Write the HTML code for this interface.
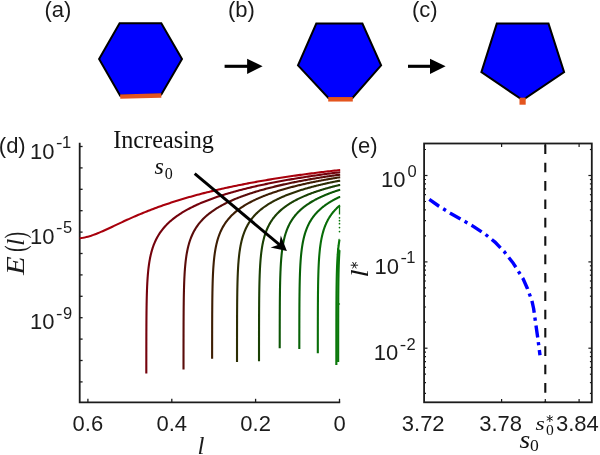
<!DOCTYPE html>
<html><head><meta charset="utf-8"><title>figure</title>
<style>html,body{margin:0;padding:0;background:#fff;}svg{display:block;}</style>
</head><body>
<svg width="600" height="455" viewBox="0 0 600 455">
<defs><filter id="n" x="0" y="0" width="600" height="455" filterUnits="userSpaceOnUse"><feOffset dx="0" dy="0"/></filter></defs>
<rect width="600" height="455" fill="#fff"/>
<g filter="url(#n)">
<polygon points="119.6,23.2 161.3,23.2 182.0,58.9 161.3,94.6 120.2,95.7 99.1,58.9" fill="#0000ff" stroke="#000" stroke-width="2.0" stroke-linejoin="miter"/>
<line x1="120.2" y1="96.6" x2="161.3" y2="95.5" stroke="#e4551e" stroke-width="4.3"/>
<polygon points="316.3,23.6 362.4,23.6 381.1,65.4 352.5,97.9 328.4,97.9 298.0,65.4" fill="#0000ff" stroke="#000" stroke-width="2.0" stroke-linejoin="miter"/>
<line x1="328.2" y1="99.3" x2="352.8" y2="99.3" stroke="#e4551e" stroke-width="4.5"/>
<polygon points="496.8,23.6 548.5,23.6 564.1,72.2 522.7,100.1 481.4,72.2" fill="#0000ff" stroke="#000" stroke-width="2.0" stroke-linejoin="miter"/>
<rect x="519.5" y="97.7" width="6.2" height="7.0" fill="#e4551e"/>
<line x1="224.6" y1="66.3" x2="248.1" y2="66.3" stroke="#000" stroke-width="3.1"/>
<polygon points="247.1,58.699999999999996 262.6,66.3 247.1,73.89999999999999" fill="#000"/>
<line x1="408.0" y1="66.3" x2="431.0" y2="66.3" stroke="#000" stroke-width="3.1"/>
<polygon points="430.0,58.699999999999996 445.6,66.3 430.0,73.89999999999999" fill="#000"/>
<text x="44.5" y="17.2" font-family="Liberation Sans, sans-serif" font-size="22" fill="#1a1a1a">(a)</text>
<text x="228" y="17.2" font-family="Liberation Sans, sans-serif" font-size="22" fill="#1a1a1a">(b)</text>
<text x="412" y="17.2" font-family="Liberation Sans, sans-serif" font-size="22" fill="#1a1a1a">(c)</text>
<text x="-1.2" y="152.6" font-family="Liberation Sans, sans-serif" font-size="22" fill="#1a1a1a">(d)</text>
<text x="350.6" y="152.6" font-family="Liberation Sans, sans-serif" font-size="22" fill="#1a1a1a">(e)</text>
<path d="M79.7,142.7 V402.3 H340.2" fill="none" stroke="#1c1c1c" stroke-width="1.8"/>
<line x1="79.7" y1="146.5" x2="82.6" y2="146.5" stroke="#1c1c1c" stroke-width="1.3"/>
<line x1="79.7" y1="167.9" x2="82.6" y2="167.9" stroke="#1c1c1c" stroke-width="1.3"/>
<line x1="79.7" y1="189.3" x2="82.6" y2="189.3" stroke="#1c1c1c" stroke-width="1.3"/>
<line x1="79.7" y1="210.7" x2="82.6" y2="210.7" stroke="#1c1c1c" stroke-width="1.3"/>
<line x1="79.7" y1="232.1" x2="82.6" y2="232.1" stroke="#1c1c1c" stroke-width="1.3"/>
<line x1="79.7" y1="253.5" x2="82.6" y2="253.5" stroke="#1c1c1c" stroke-width="1.3"/>
<line x1="79.7" y1="274.9" x2="82.6" y2="274.9" stroke="#1c1c1c" stroke-width="1.3"/>
<line x1="79.7" y1="296.3" x2="82.6" y2="296.3" stroke="#1c1c1c" stroke-width="1.3"/>
<line x1="79.7" y1="317.7" x2="82.6" y2="317.7" stroke="#1c1c1c" stroke-width="1.3"/>
<line x1="79.7" y1="339.1" x2="82.6" y2="339.1" stroke="#1c1c1c" stroke-width="1.3"/>
<line x1="79.7" y1="360.5" x2="82.6" y2="360.5" stroke="#1c1c1c" stroke-width="1.3"/>
<line x1="79.7" y1="381.9" x2="82.6" y2="381.9" stroke="#1c1c1c" stroke-width="1.3"/>
<line x1="87.9" y1="402.3" x2="87.9" y2="398.8" stroke="#1c1c1c" stroke-width="1.3"/>
<text x="87.9" y="430.8" font-family="Liberation Sans, sans-serif" font-size="22" fill="#1c1c1c" text-anchor="middle">0.6</text>
<line x1="171.8" y1="402.3" x2="171.8" y2="398.8" stroke="#1c1c1c" stroke-width="1.3"/>
<text x="171.8" y="430.8" font-family="Liberation Sans, sans-serif" font-size="22" fill="#1c1c1c" text-anchor="middle">0.4</text>
<line x1="255.6" y1="402.3" x2="255.6" y2="398.8" stroke="#1c1c1c" stroke-width="1.3"/>
<text x="255.6" y="430.8" font-family="Liberation Sans, sans-serif" font-size="22" fill="#1c1c1c" text-anchor="middle">0.2</text>
<line x1="339.5" y1="402.3" x2="339.5" y2="398.8" stroke="#1c1c1c" stroke-width="1.3"/>
<text x="339.5" y="430.8" font-family="Liberation Sans, sans-serif" font-size="22" fill="#1c1c1c" text-anchor="middle">0</text>
<text x="54.6" y="158.6" font-family="Liberation Sans, sans-serif" font-size="22" fill="#1c1c1c" text-anchor="end">10</text>
<text transform="translate(56.1,148.0) scale(1.18,1)" font-family="Liberation Sans, sans-serif" font-size="16.5" fill="#1c1c1c">-</text>
<text x="61.9" y="148.0" font-family="Liberation Sans, sans-serif" font-size="16.5" fill="#1c1c1c">1</text>
<text x="54.6" y="243.8" font-family="Liberation Sans, sans-serif" font-size="22" fill="#1c1c1c" text-anchor="end">10</text>
<text transform="translate(56.1,233.20000000000002) scale(1.18,1)" font-family="Liberation Sans, sans-serif" font-size="16.5" fill="#1c1c1c">-</text>
<text x="63.0" y="233.20000000000002" font-family="Liberation Sans, sans-serif" font-size="16.5" fill="#1c1c1c">5</text>
<text x="54.6" y="329.4" font-family="Liberation Sans, sans-serif" font-size="22" fill="#1c1c1c" text-anchor="end">10</text>
<text transform="translate(56.1,318.79999999999995) scale(1.18,1)" font-family="Liberation Sans, sans-serif" font-size="16.5" fill="#1c1c1c">-</text>
<text x="63.0" y="318.79999999999995" font-family="Liberation Sans, sans-serif" font-size="16.5" fill="#1c1c1c">9</text>
<g transform="translate(24.3,274.8) rotate(-90)" font-family="Liberation Serif, serif" fill="#1c1c1c"><text transform="translate(-0.3,0) scale(1.2,1)" font-style="italic" font-size="25.5">E</text><text transform="translate(22.9,0.3) scale(0.7,1)" font-size="29">(</text><text transform="translate(28.8,0)" font-style="italic" font-size="26">l</text><text transform="translate(36.2,0.3) scale(0.7,1)" font-size="29">)</text></g>
<text x="201" y="453.6" font-family="Liberation Serif, serif" font-style="italic" font-size="25" fill="#1c1c1c" text-anchor="middle">l</text>
<path d="M340.20,170.10 L337.87,170.28 L336.23,170.46 L334.60,170.64 L332.96,170.82 L331.33,171.01 L329.70,171.19 L328.06,171.38 L326.43,171.58 L324.79,171.77 L323.16,171.96 L321.53,172.16 L319.89,172.36 L318.26,172.56 L316.62,172.76 L314.99,172.97 L313.36,173.17 L311.72,173.38 L310.09,173.60 L308.45,173.81 L306.82,174.02 L305.19,174.24 L303.55,174.46 L301.92,174.68 L300.28,174.91 L298.65,175.13 L297.02,175.36 L295.38,175.59 L293.75,175.83 L292.12,176.06 L290.48,176.30 L288.85,176.54 L287.21,176.78 L285.58,177.03 L283.95,177.28 L282.31,177.53 L280.68,177.78 L279.04,178.03 L277.41,178.29 L275.78,178.55 L274.14,178.81 L272.51,179.08 L270.87,179.35 L269.24,179.62 L267.61,179.89 L265.97,180.17 L264.34,180.45 L262.70,180.73 L261.07,181.01 L259.44,181.30 L257.80,181.59 L256.17,181.89 L254.53,182.18 L252.90,182.48 L251.27,182.79 L249.63,183.09 L248.00,183.40 L246.36,183.71 L244.73,184.03 L243.10,184.35 L241.46,184.67 L239.83,185.00 L238.19,185.32 L236.56,185.66 L234.93,185.99 L233.29,186.33 L231.66,186.68 L230.02,187.02 L228.39,187.38 L226.76,187.73 L225.12,188.09 L223.49,188.45 L221.85,188.82 L220.22,189.19 L218.59,189.56 L216.95,189.94 L215.32,190.33 L213.68,190.72 L212.05,191.11 L210.42,191.50 L208.78,191.91 L207.15,192.31 L205.52,192.72 L203.88,193.14 L202.25,193.56 L200.61,193.98 L198.98,194.42 L197.35,194.85 L195.71,195.29 L194.08,195.74 L192.44,196.19 L190.81,196.65 L189.18,197.11 L187.54,197.58 L185.91,198.05 L184.27,198.53 L182.64,199.02 L181.01,199.51 L179.37,200.01 L177.74,200.52 L176.10,201.03 L174.47,201.54 L172.84,202.07 L171.20,202.60 L169.57,203.14 L167.93,203.68 L166.30,204.24 L164.67,204.80 L163.03,205.36 L161.40,205.94 L159.76,206.52 L158.13,207.11 L156.50,207.71 L154.86,208.31 L153.23,208.92 L151.59,209.54 L149.96,210.17 L148.33,210.81 L146.69,211.46 L145.06,212.11 L143.42,212.77 L141.79,213.44 L140.16,214.12 L138.52,214.81 L136.89,215.50 L135.25,216.20 L133.62,216.91 L131.99,217.63 L130.35,218.36 L128.72,219.09 L127.08,219.83 L125.45,220.57 L123.82,221.32 L122.18,222.08 L120.55,222.84 L118.92,223.61 L117.28,224.37 L115.65,225.14 L114.01,225.92 L112.38,226.69 L110.75,227.45 L109.11,228.22 L107.48,228.98 L105.84,229.73 L104.21,230.47 L102.58,231.19 L100.94,231.91 L99.31,232.60 L97.67,233.27 L96.04,233.92 L94.41,234.54 L92.77,235.12 L91.14,235.68 L89.50,236.19 L87.87,236.65 L86.24,237.08 L84.60,237.45 L82.97,237.76 L81.33,238.02 L79.70,238.22" fill="none" stroke="rgb(168,0,12)" stroke-width="2.1" stroke-linejoin="round"/>
<path d="M340.20,172.30 L338.18,172.46 L336.86,172.62 L335.54,172.79 L334.22,172.95 L332.90,173.12 L331.58,173.29 L330.26,173.46 L328.94,173.63 L327.62,173.80 L326.30,173.98 L324.98,174.15 L323.65,174.33 L322.33,174.51 L321.01,174.69 L319.69,174.88 L318.37,175.06 L317.05,175.25 L315.73,175.44 L314.41,175.63 L313.09,175.82 L311.77,176.01 L310.45,176.21 L309.13,176.41 L307.81,176.61 L306.49,176.81 L305.17,177.01 L303.85,177.21 L302.53,177.42 L301.21,177.63 L299.89,177.84 L298.57,178.06 L297.25,178.27 L295.93,178.49 L294.61,178.71 L293.28,178.93 L291.96,179.15 L290.64,179.38 L289.32,179.61 L288.00,179.84 L286.68,180.07 L285.36,180.30 L284.04,180.54 L282.72,180.78 L281.40,181.02 L280.08,181.27 L278.76,181.51 L277.44,181.76 L276.12,182.02 L274.80,182.27 L273.48,182.53 L272.16,182.79 L270.84,183.05 L269.52,183.32 L268.20,183.59 L266.88,183.86 L265.56,184.13 L264.24,184.41 L262.91,184.69 L261.59,184.97 L260.27,185.26 L258.95,185.55 L257.63,185.84 L256.31,186.14 L254.99,186.44 L253.67,186.75 L252.35,187.05 L251.03,187.36 L249.71,187.68 L248.39,188.00 L247.07,188.32 L245.75,188.65 L244.43,188.98 L243.11,189.31 L241.79,189.65 L240.47,189.99 L239.15,190.34 L237.83,190.69 L236.51,191.05 L235.19,191.41 L233.87,191.78 L232.55,192.15 L231.22,192.53 L229.90,192.91 L228.58,193.30 L227.26,193.69 L225.94,194.09 L224.62,194.50 L223.30,194.91 L221.98,195.33 L220.66,195.75 L219.34,196.18 L218.02,196.62 L216.70,197.07 L215.38,197.52 L214.06,197.98 L212.74,198.45 L211.42,198.93 L210.10,199.41 L208.78,199.91 L207.46,200.41 L206.14,200.92 L204.82,201.45 L203.50,201.98 L202.18,202.53 L200.85,203.08 L199.53,203.65 L198.21,204.23 L196.89,204.83 L195.57,205.43 L194.25,206.06 L192.93,206.69 L191.61,207.35 L190.29,208.02 L188.97,208.71 L187.65,209.41 L186.33,210.14 L185.01,210.89 L183.69,211.66 L182.37,212.46 L181.05,213.28 L179.73,214.13 L178.41,215.01 L177.09,215.92 L175.77,216.87 L174.45,217.86 L173.13,218.89 L171.81,219.97 L170.48,221.09 L169.16,222.28 L167.84,223.53 L166.52,224.85 L165.20,226.25 L163.88,227.74 L162.56,229.34 L161.24,231.06 L159.92,232.93 L158.60,234.98 L157.28,237.24 L155.96,239.78 L155.96,239.78 L155.40,240.95 L154.88,242.12 L154.38,243.29 L153.91,244.45 L153.47,245.61 L153.06,246.77 L152.67,247.92 L152.30,249.07 L151.95,250.22 L151.63,251.37 L151.32,252.52 L151.03,253.66 L150.75,254.80 L150.50,255.94 L150.25,257.07 L150.03,258.21 L149.81,259.34 L149.61,260.48 L149.42,261.61 L149.24,262.74 L149.07,263.86 L148.91,264.99 L148.76,266.12 L148.61,267.24 L148.48,268.37 L148.35,269.49 L148.23,270.61 L148.12,271.73 L148.02,272.85 L147.92,273.97 L147.82,275.09 L147.74,276.21 L147.65,277.33 L147.58,278.44 L147.50,279.56 L147.43,280.67 L147.37,281.79 L147.30,282.90 L147.25,284.02 L147.19,285.13 L147.14,286.25 L147.09,287.36 L147.05,288.47 L147.00,289.59 L146.96,290.70 L146.92,291.81 L146.89,292.92 L146.85,294.03 L146.82,295.14 L146.79,296.25 L146.76,297.36 L146.74,298.48 L146.71,299.59 L146.69,300.70 L146.67,301.81 L146.64,302.91 L146.62,304.02 L146.61,305.13 L146.59,306.24 L146.57,307.35 L146.56,308.46 L146.54,309.57 L146.53,310.68 L146.51,311.79 L146.50,312.90 L146.49,314.00 L146.48,315.11 L146.47,316.22 L146.46,317.33 L146.45,318.44 L146.44,319.55 L146.43,320.65 L146.42,321.76 L146.42,322.87 L146.41,323.98 L146.40,325.09 L146.40,326.19 L146.39,327.30 L146.39,328.41 L146.38,329.52 L146.38,330.62 L146.37,331.73 L146.37,332.84 L146.36,333.95 L146.36,335.05 L146.36,336.16 L146.35,337.27 L146.35,338.38 L146.35,339.48 L146.35,340.59 L146.34,341.70 L146.34,342.81 L146.34,343.91 L146.34,345.02 L146.33,346.13 L146.33,347.24 L146.33,348.34 L146.33,349.45 L146.33,350.56 L146.33,351.66 L146.32,352.77 L146.32,353.88 L146.32,354.99 L146.32,356.09 L146.32,357.20 L146.32,358.31 L146.32,359.41 L146.32,360.52 L146.31,361.63 L146.31,362.74 L146.31,363.84 L146.31,364.95 L146.31,366.06 L146.31,367.16 L146.31,368.27 L146.31,369.38 L146.31,370.49 L146.31,371.59 L146.31,372.70 L146.31,373.50" fill="none" stroke="rgb(116,2,12)" stroke-width="2.1" stroke-linejoin="round"/>
<path d="M340.20,174.70 L338.43,174.85 L337.37,175.00 L336.30,175.15 L335.24,175.30 L334.17,175.45 L333.10,175.60 L332.04,175.76 L330.97,175.92 L329.90,176.07 L328.84,176.23 L327.77,176.39 L326.71,176.56 L325.64,176.72 L324.57,176.88 L323.51,177.05 L322.44,177.22 L321.37,177.39 L320.31,177.56 L319.24,177.73 L318.18,177.90 L317.11,178.08 L316.04,178.26 L314.98,178.43 L313.91,178.61 L312.85,178.80 L311.78,178.98 L310.71,179.16 L309.65,179.35 L308.58,179.54 L307.51,179.73 L306.45,179.92 L305.38,180.11 L304.32,180.31 L303.25,180.51 L302.18,180.71 L301.12,180.91 L300.05,181.11 L298.98,181.31 L297.92,181.52 L296.85,181.73 L295.79,181.94 L294.72,182.15 L293.65,182.37 L292.59,182.58 L291.52,182.80 L290.46,183.03 L289.39,183.25 L288.32,183.48 L287.26,183.70 L286.19,183.93 L285.12,184.17 L284.06,184.40 L282.99,184.64 L281.93,184.88 L280.86,185.12 L279.79,185.37 L278.73,185.62 L277.66,185.87 L276.59,186.12 L275.53,186.38 L274.46,186.64 L273.40,186.90 L272.33,187.17 L271.26,187.43 L270.20,187.71 L269.13,187.98 L268.07,188.26 L267.00,188.54 L265.93,188.83 L264.87,189.11 L263.80,189.41 L262.73,189.70 L261.67,190.00 L260.60,190.30 L259.54,190.61 L258.47,190.92 L257.40,191.24 L256.34,191.56 L255.27,191.88 L254.21,192.21 L253.14,192.55 L252.07,192.88 L251.01,193.23 L249.94,193.58 L248.87,193.93 L247.81,194.29 L246.74,194.65 L245.68,195.02 L244.61,195.40 L243.54,195.78 L242.48,196.17 L241.41,196.56 L240.34,196.96 L239.28,197.37 L238.21,197.79 L237.15,198.21 L236.08,198.64 L235.01,199.08 L233.95,199.53 L232.88,199.99 L231.82,200.45 L230.75,200.93 L229.68,201.41 L228.62,201.91 L227.55,202.41 L226.48,202.93 L225.42,203.46 L224.35,204.00 L223.29,204.56 L222.22,205.12 L221.15,205.71 L220.09,206.31 L219.02,206.92 L217.95,207.55 L216.89,208.20 L215.82,208.87 L214.76,209.56 L213.69,210.28 L212.62,211.01 L211.56,211.78 L210.49,212.57 L209.43,213.38 L208.36,214.23 L207.29,215.12 L206.23,216.04 L205.16,217.01 L204.09,218.02 L203.03,219.08 L201.96,220.20 L200.90,221.38 L199.83,222.63 L198.76,223.96 L197.70,225.38 L196.63,226.90 L195.56,228.55 L194.50,230.35 L193.43,232.32 L192.37,234.51 L191.30,236.97 L191.30,236.97 L190.85,238.11 L190.42,239.25 L190.02,240.39 L189.65,241.52 L189.29,242.66 L188.96,243.79 L188.64,244.92 L188.34,246.05 L188.06,247.18 L187.80,248.30 L187.55,249.43 L187.32,250.55 L187.10,251.68 L186.89,252.80 L186.69,253.92 L186.51,255.04 L186.33,256.16 L186.17,257.28 L186.02,258.40 L185.87,259.52 L185.73,260.64 L185.60,261.76 L185.48,262.87 L185.37,263.99 L185.26,265.10 L185.16,266.22 L185.06,267.33 L184.97,268.45 L184.89,269.56 L184.81,270.67 L184.73,271.79 L184.66,272.90 L184.59,274.01 L184.53,275.12 L184.47,276.23 L184.41,277.35 L184.36,278.46 L184.31,279.57 L184.26,280.68 L184.22,281.79 L184.18,282.90 L184.14,284.01 L184.10,285.12 L184.07,286.23 L184.03,287.34 L184.00,288.45 L183.97,289.56 L183.95,290.67 L183.92,291.77 L183.90,292.88 L183.87,293.99 L183.85,295.10 L183.83,296.21 L183.81,297.32 L183.79,298.43 L183.78,299.54 L183.76,300.64 L183.75,301.75 L183.73,302.86 L183.72,303.97 L183.71,305.08 L183.69,306.18 L183.68,307.29 L183.67,308.40 L183.66,309.51 L183.65,310.61 L183.64,311.72 L183.64,312.83 L183.63,313.94 L183.62,315.05 L183.61,316.15 L183.61,317.26 L183.60,318.37 L183.60,319.48 L183.59,320.58 L183.58,321.69 L183.58,322.80 L183.57,323.91 L183.57,325.01 L183.57,326.12 L183.56,327.23 L183.56,328.33 L183.56,329.44 L183.55,330.55 L183.55,331.66 L183.55,332.76 L183.54,333.87 L183.54,334.98 L183.54,336.09 L183.54,337.19 L183.53,338.30 L183.53,339.41 L183.53,340.51 L183.53,341.62 L183.53,342.73 L183.53,343.84 L183.52,344.94 L183.52,346.05 L183.52,347.16 L183.52,348.26 L183.52,349.37 L183.52,350.48 L183.52,351.58 L183.52,352.69 L183.52,353.80 L183.51,354.91 L183.51,356.01 L183.51,357.12 L183.51,358.23 L183.51,359.33 L183.51,360.44 L183.51,361.55 L183.51,362.66 L183.51,363.76 L183.51,364.87 L183.51,365.98 L183.51,367.08 L183.51,368.19 L183.51,369.30 L183.51,369.50" fill="none" stroke="rgb(90,12,10)" stroke-width="2.1" stroke-linejoin="round"/>
<path d="M340.20,177.30 L338.63,177.44 L337.76,177.58 L336.89,177.72 L336.02,177.87 L335.15,178.01 L334.28,178.16 L333.40,178.30 L332.53,178.45 L331.66,178.60 L330.79,178.75 L329.92,178.90 L329.05,179.05 L328.18,179.21 L327.31,179.36 L326.44,179.52 L325.57,179.68 L324.70,179.84 L323.83,180.00 L322.96,180.16 L322.09,180.32 L321.21,180.49 L320.34,180.66 L319.47,180.82 L318.60,180.99 L317.73,181.16 L316.86,181.34 L315.99,181.51 L315.12,181.68 L314.25,181.86 L313.38,182.04 L312.51,182.22 L311.64,182.40 L310.77,182.58 L309.90,182.77 L309.02,182.96 L308.15,183.14 L307.28,183.34 L306.41,183.53 L305.54,183.72 L304.67,183.92 L303.80,184.11 L302.93,184.31 L302.06,184.52 L301.19,184.72 L300.32,184.92 L299.45,185.13 L298.58,185.34 L297.71,185.55 L296.83,185.77 L295.96,185.98 L295.09,186.20 L294.22,186.42 L293.35,186.64 L292.48,186.87 L291.61,187.10 L290.74,187.33 L289.87,187.56 L289.00,187.79 L288.13,188.03 L287.26,188.27 L286.39,188.52 L285.52,188.76 L284.64,189.01 L283.77,189.26 L282.90,189.52 L282.03,189.78 L281.16,190.04 L280.29,190.30 L279.42,190.57 L278.55,190.84 L277.68,191.11 L276.81,191.39 L275.94,191.67 L275.07,191.96 L274.20,192.25 L273.33,192.54 L272.45,192.84 L271.58,193.14 L270.71,193.44 L269.84,193.75 L268.97,194.07 L268.10,194.38 L267.23,194.71 L266.36,195.04 L265.49,195.37 L264.62,195.71 L263.75,196.05 L262.88,196.40 L262.01,196.75 L261.14,197.12 L260.26,197.48 L259.39,197.86 L258.52,198.24 L257.65,198.62 L256.78,199.02 L255.91,199.42 L255.04,199.83 L254.17,200.24 L253.30,200.67 L252.43,201.10 L251.56,201.54 L250.69,201.99 L249.82,202.45 L248.95,202.93 L248.07,203.41 L247.20,203.90 L246.33,204.41 L245.46,204.92 L244.59,205.45 L243.72,206.00 L242.85,206.55 L241.98,207.13 L241.11,207.72 L240.24,208.32 L239.37,208.95 L238.50,209.59 L237.63,210.26 L236.76,210.94 L235.88,211.65 L235.01,212.39 L234.14,213.15 L233.27,213.94 L232.40,214.76 L231.53,215.62 L230.66,216.51 L229.79,217.45 L228.92,218.43 L228.05,219.46 L227.18,220.55 L226.31,221.70 L225.44,222.92 L224.57,224.22 L223.69,225.61 L222.82,227.10 L221.95,228.72 L221.08,230.49 L220.21,232.43 L219.34,234.59 L218.47,237.02 L218.47,237.02 L218.10,238.14 L217.75,239.27 L217.43,240.39 L217.12,241.52 L216.83,242.64 L216.56,243.76 L216.30,244.88 L216.06,246.00 L215.83,247.12 L215.61,248.24 L215.41,249.36 L215.22,250.48 L215.04,251.59 L214.87,252.71 L214.71,253.82 L214.56,254.94 L214.41,256.05 L214.28,257.17 L214.15,258.28 L214.04,259.40 L213.92,260.51 L213.82,261.62 L213.72,262.74 L213.63,263.85 L213.54,264.96 L213.45,266.07 L213.38,267.18 L213.30,268.29 L213.23,269.40 L213.17,270.51 L213.11,271.63 L213.05,272.74 L212.99,273.85 L212.94,274.96 L212.89,276.06 L212.85,277.17 L212.80,278.28 L212.76,279.39 L212.72,280.50 L212.69,281.61 L212.65,282.72 L212.62,283.83 L212.59,284.94 L212.56,286.05 L212.54,287.15 L212.51,288.26 L212.49,289.37 L212.47,290.48 L212.44,291.59 L212.42,292.70 L212.41,293.80 L212.39,294.91 L212.37,296.02 L212.36,297.13 L212.34,298.24 L212.33,299.34 L212.31,300.45 L212.30,301.56 L212.29,302.67 L212.28,303.77 L212.27,304.88 L212.26,305.99 L212.25,307.10 L212.24,308.20 L212.23,309.31 L212.23,310.42 L212.22,311.53 L212.21,312.63 L212.20,313.74 L212.20,314.85 L212.19,315.96 L212.19,317.06 L212.18,318.17 L212.18,319.28 L212.17,320.39 L212.17,321.49 L212.16,322.60 L212.16,323.71 L212.16,324.81 L212.15,325.92 L212.15,327.03 L212.15,328.14 L212.15,329.24 L212.14,330.35 L212.14,331.46 L212.14,332.56 L212.14,333.67 L212.13,334.78 L212.13,335.89 L212.13,336.99 L212.13,338.10 L212.13,339.21 L212.13,340.31 L212.12,341.42 L212.12,342.53 L212.12,343.64 L212.12,344.74 L212.12,345.85 L212.12,346.96 L212.12,348.06 L212.12,349.17 L212.11,350.28 L212.11,351.39 L212.11,352.49 L212.11,353.60 L212.11,354.71 L212.11,355.81 L212.11,356.92 L212.11,358.03 L212.11,358.80" fill="none" stroke="rgb(62,30,4)" stroke-width="2.1" stroke-linejoin="round"/>
<path d="M340.20,180.70 L338.80,180.83 L338.10,180.97 L337.40,181.11 L336.70,181.25 L336.00,181.38 L335.30,181.52 L334.60,181.67 L333.90,181.81 L333.20,181.95 L332.49,182.10 L331.79,182.24 L331.09,182.39 L330.39,182.54 L329.69,182.69 L328.99,182.84 L328.29,182.99 L327.59,183.14 L326.89,183.29 L326.19,183.45 L325.49,183.61 L324.79,183.76 L324.09,183.92 L323.39,184.08 L322.69,184.25 L321.99,184.41 L321.29,184.58 L320.59,184.74 L319.88,184.91 L319.18,185.08 L318.48,185.25 L317.78,185.42 L317.08,185.60 L316.38,185.77 L315.68,185.95 L314.98,186.13 L314.28,186.31 L313.58,186.49 L312.88,186.67 L312.18,186.86 L311.48,187.05 L310.78,187.23 L310.08,187.43 L309.38,187.62 L308.68,187.81 L307.98,188.01 L307.28,188.21 L306.57,188.41 L305.87,188.61 L305.17,188.81 L304.47,189.02 L303.77,189.23 L303.07,189.44 L302.37,189.65 L301.67,189.87 L300.97,190.09 L300.27,190.31 L299.57,190.53 L298.87,190.76 L298.17,190.98 L297.47,191.21 L296.77,191.45 L296.07,191.68 L295.37,191.92 L294.67,192.16 L293.96,192.40 L293.26,192.65 L292.56,192.90 L291.86,193.16 L291.16,193.41 L290.46,193.67 L289.76,193.93 L289.06,194.20 L288.36,194.47 L287.66,194.74 L286.96,195.02 L286.26,195.30 L285.56,195.59 L284.86,195.88 L284.16,196.17 L283.46,196.47 L282.76,196.77 L282.06,197.07 L281.36,197.38 L280.65,197.70 L279.95,198.02 L279.25,198.35 L278.55,198.68 L277.85,199.01 L277.15,199.35 L276.45,199.70 L275.75,200.06 L275.05,200.42 L274.35,200.78 L273.65,201.16 L272.95,201.53 L272.25,201.92 L271.55,202.32 L270.85,202.72 L270.15,203.13 L269.45,203.55 L268.75,203.98 L268.04,204.41 L267.34,204.86 L266.64,205.32 L265.94,205.78 L265.24,206.26 L264.54,206.75 L263.84,207.25 L263.14,207.77 L262.44,208.30 L261.74,208.84 L261.04,209.40 L260.34,209.97 L259.64,210.56 L258.94,211.17 L258.24,211.80 L257.54,212.45 L256.84,213.12 L256.14,213.81 L255.44,214.53 L254.73,215.27 L254.03,216.05 L253.33,216.85 L252.63,217.69 L251.93,218.57 L251.23,219.49 L250.53,220.46 L249.83,221.47 L249.13,222.54 L248.43,223.67 L247.73,224.87 L247.03,226.16 L246.33,227.53 L245.63,229.01 L244.93,230.61 L244.23,232.36 L243.53,234.28 L242.83,236.42 L242.12,238.83 L242.12,238.83 L241.83,239.94 L241.55,241.06 L241.29,242.18 L241.04,243.30 L240.81,244.41 L240.59,245.53 L240.38,246.65 L240.18,247.76 L240.00,248.87 L239.83,249.99 L239.66,251.10 L239.51,252.22 L239.36,253.33 L239.23,254.44 L239.10,255.55 L238.98,256.67 L238.86,257.78 L238.75,258.89 L238.65,260.00 L238.56,261.11 L238.47,262.22 L238.38,263.33 L238.30,264.44 L238.23,265.55 L238.16,266.66 L238.09,267.77 L238.03,268.88 L237.97,269.99 L237.91,271.10 L237.86,272.21 L237.81,273.32 L237.76,274.43 L237.72,275.54 L237.68,276.64 L237.64,277.75 L237.60,278.86 L237.57,279.97 L237.53,281.08 L237.50,282.19 L237.47,283.30 L237.45,284.40 L237.42,285.51 L237.40,286.62 L237.37,287.73 L237.35,288.84 L237.33,289.94 L237.31,291.05 L237.29,292.16 L237.28,293.27 L237.26,294.37 L237.25,295.48 L237.23,296.59 L237.22,297.70 L237.21,298.80 L237.19,299.91 L237.18,301.02 L237.17,302.13 L237.16,303.23 L237.15,304.34 L237.14,305.45 L237.14,306.56 L237.13,307.66 L237.12,308.77 L237.11,309.88 L237.11,310.99 L237.10,312.09 L237.09,313.20 L237.09,314.31 L237.08,315.41 L237.08,316.52 L237.07,317.63 L237.07,318.74 L237.07,319.84 L237.06,320.95 L237.06,322.06 L237.06,323.17 L237.05,324.27 L237.05,325.38 L237.05,326.49 L237.04,327.59 L237.04,328.70 L237.04,329.81 L237.04,330.91 L237.03,332.02 L237.03,333.13 L237.03,334.24 L237.03,335.34 L237.03,336.45 L237.03,337.56 L237.02,338.66 L237.02,339.77 L237.02,340.88 L237.02,341.99 L237.02,343.09 L237.02,344.20 L237.02,345.31 L237.02,346.41 L237.01,347.52 L237.01,348.63 L237.01,349.74 L237.01,350.84 L237.01,351.95 L237.01,353.06 L237.01,354.16 L237.01,355.27 L237.01,356.38 L237.01,357.48 L237.01,358.59 L237.01,359.70 L237.01,360.81 L237.01,361.91 L237.01,362.00" fill="none" stroke="rgb(44,46,4)" stroke-width="2.1" stroke-linejoin="round"/>
<path d="M340.20,185.00 L338.95,185.13 L338.40,185.26 L337.85,185.40 L337.30,185.53 L336.75,185.67 L336.20,185.80 L335.65,185.94 L335.10,186.08 L334.55,186.22 L334.00,186.36 L333.45,186.50 L332.90,186.64 L332.35,186.79 L331.80,186.93 L331.25,187.08 L330.70,187.23 L330.15,187.38 L329.60,187.52 L329.05,187.68 L328.50,187.83 L327.95,187.98 L327.40,188.14 L326.85,188.29 L326.30,188.45 L325.75,188.61 L325.20,188.77 L324.65,188.93 L324.09,189.09 L323.54,189.26 L322.99,189.42 L322.44,189.59 L321.89,189.76 L321.34,189.93 L320.79,190.10 L320.24,190.27 L319.69,190.45 L319.14,190.63 L318.59,190.80 L318.04,190.98 L317.49,191.17 L316.94,191.35 L316.39,191.53 L315.84,191.72 L315.29,191.91 L314.74,192.10 L314.19,192.29 L313.64,192.49 L313.09,192.68 L312.54,192.88 L311.99,193.08 L311.44,193.28 L310.89,193.49 L310.34,193.70 L309.79,193.90 L309.24,194.12 L308.69,194.33 L308.14,194.55 L307.59,194.76 L307.04,194.98 L306.49,195.21 L305.94,195.43 L305.39,195.66 L304.84,195.89 L304.29,196.13 L303.74,196.36 L303.19,196.60 L302.64,196.85 L302.09,197.09 L301.54,197.34 L300.99,197.59 L300.44,197.85 L299.89,198.11 L299.34,198.37 L298.79,198.64 L298.24,198.91 L297.69,199.18 L297.14,199.46 L296.59,199.74 L296.04,200.02 L295.49,200.31 L294.94,200.61 L294.39,200.90 L293.84,201.21 L293.28,201.51 L292.73,201.83 L292.18,202.14 L291.63,202.47 L291.08,202.79 L290.53,203.13 L289.98,203.47 L289.43,203.81 L288.88,204.16 L288.33,204.52 L287.78,204.88 L287.23,205.25 L286.68,205.63 L286.13,206.02 L285.58,206.41 L285.03,206.81 L284.48,207.22 L283.93,207.64 L283.38,208.07 L282.83,208.51 L282.28,208.95 L281.73,209.41 L281.18,209.88 L280.63,210.36 L280.08,210.85 L279.53,211.36 L278.98,211.88 L278.43,212.41 L277.88,212.96 L277.33,213.52 L276.78,214.10 L276.23,214.70 L275.68,215.32 L275.13,215.96 L274.58,216.62 L274.03,217.30 L273.48,218.01 L272.93,218.74 L272.38,219.51 L271.83,220.30 L271.28,221.13 L270.73,222.00 L270.18,222.91 L269.63,223.86 L269.08,224.86 L268.53,225.92 L267.98,227.04 L267.43,228.23 L266.88,229.50 L266.33,230.87 L265.78,232.33 L265.23,233.92 L264.68,235.66 L264.13,237.57 L263.58,239.70 L263.02,242.09 L263.02,242.09 L262.79,243.21 L262.57,244.32 L262.37,245.44 L262.17,246.55 L261.99,247.66 L261.82,248.77 L261.65,249.88 L261.50,251.00 L261.35,252.11 L261.22,253.22 L261.09,254.33 L260.97,255.44 L260.86,256.55 L260.75,257.66 L260.65,258.77 L260.55,259.88 L260.46,260.99 L260.38,262.10 L260.30,263.21 L260.22,264.32 L260.15,265.43 L260.09,266.54 L260.02,267.65 L259.96,268.75 L259.91,269.86 L259.86,270.97 L259.81,272.08 L259.76,273.19 L259.72,274.30 L259.67,275.41 L259.64,276.51 L259.60,277.62 L259.56,278.73 L259.53,279.84 L259.50,280.95 L259.47,282.05 L259.44,283.16 L259.42,284.27 L259.39,285.38 L259.37,286.49 L259.35,287.59 L259.33,288.70 L259.31,289.81 L259.29,290.92 L259.28,292.02 L259.26,293.13 L259.24,294.24 L259.23,295.35 L259.22,296.45 L259.20,297.56 L259.19,298.67 L259.18,299.78 L259.17,300.88 L259.16,301.99 L259.15,303.10 L259.14,304.20 L259.14,305.31 L259.13,306.42 L259.12,307.53 L259.11,308.63 L259.11,309.74 L259.10,310.85 L259.09,311.96 L259.09,313.06 L259.08,314.17 L259.08,315.28 L259.07,316.38 L259.07,317.49 L259.07,318.60 L259.06,319.71 L259.06,320.81 L259.06,321.92 L259.05,323.03 L259.05,324.13 L259.05,325.24 L259.04,326.35 L259.04,327.45 L259.04,328.56 L259.04,329.67 L259.03,330.78 L259.03,331.88 L259.03,332.99 L259.03,334.10 L259.03,335.20 L259.03,336.31 L259.02,337.42 L259.02,338.53 L259.02,339.63 L259.02,340.74 L259.02,341.85 L259.02,342.95 L259.02,344.06 L259.02,345.17 L259.01,346.27 L259.01,347.38 L259.01,348.49 L259.01,349.60 L259.01,350.70 L259.01,351.81 L259.01,352.92 L259.01,354.02 L259.01,355.13 L259.01,356.24 L259.01,357.35 L259.01,358.45 L259.01,359.56 L259.01,360.67 L259.01,361.30" fill="none" stroke="rgb(26,64,4)" stroke-width="2.1" stroke-linejoin="round"/>
<path d="M340.20,189.90 L339.09,190.03 L338.68,190.16 L338.27,190.29 L337.87,190.42 L337.46,190.56 L337.05,190.69 L336.64,190.82 L336.23,190.96 L335.82,191.10 L335.41,191.23 L335.00,191.37 L334.60,191.51 L334.19,191.66 L333.78,191.80 L333.37,191.94 L332.96,192.09 L332.55,192.23 L332.14,192.38 L331.73,192.53 L331.33,192.68 L330.92,192.83 L330.51,192.98 L330.10,193.13 L329.69,193.28 L329.28,193.44 L328.87,193.60 L328.46,193.75 L328.06,193.91 L327.65,194.08 L327.24,194.24 L326.83,194.40 L326.42,194.57 L326.01,194.73 L325.60,194.90 L325.20,195.07 L324.79,195.24 L324.38,195.41 L323.97,195.59 L323.56,195.76 L323.15,195.94 L322.74,196.12 L322.33,196.30 L321.93,196.49 L321.52,196.67 L321.11,196.86 L320.70,197.05 L320.29,197.24 L319.88,197.43 L319.47,197.62 L319.06,197.82 L318.66,198.02 L318.25,198.22 L317.84,198.42 L317.43,198.62 L317.02,198.83 L316.61,199.04 L316.20,199.25 L315.80,199.46 L315.39,199.68 L314.98,199.90 L314.57,200.12 L314.16,200.34 L313.75,200.57 L313.34,200.80 L312.93,201.03 L312.53,201.27 L312.12,201.51 L311.71,201.75 L311.30,201.99 L310.89,202.24 L310.48,202.49 L310.07,202.74 L309.66,203.00 L309.26,203.26 L308.85,203.52 L308.44,203.79 L308.03,204.06 L307.62,204.34 L307.21,204.62 L306.80,204.90 L306.39,205.19 L305.99,205.48 L305.58,205.78 L305.17,206.08 L304.76,206.39 L304.35,206.70 L303.94,207.02 L303.53,207.34 L303.13,207.67 L302.72,208.00 L302.31,208.34 L301.90,208.68 L301.49,209.04 L301.08,209.39 L300.67,209.76 L300.26,210.13 L299.86,210.51 L299.45,210.90 L299.04,211.29 L298.63,211.70 L298.22,212.11 L297.81,212.53 L297.40,212.96 L296.99,213.40 L296.59,213.85 L296.18,214.32 L295.77,214.79 L295.36,215.28 L294.95,215.77 L294.54,216.29 L294.13,216.81 L293.73,217.35 L293.32,217.91 L292.91,218.48 L292.50,219.08 L292.09,219.69 L291.68,220.32 L291.27,220.97 L290.86,221.65 L290.46,222.35 L290.05,223.07 L289.64,223.83 L289.23,224.62 L288.82,225.44 L288.41,226.30 L288.00,227.20 L287.59,228.15 L287.19,229.14 L286.78,230.20 L286.37,231.31 L285.96,232.49 L285.55,233.76 L285.14,235.11 L284.73,236.57 L284.32,238.15 L283.92,239.88 L283.51,241.78 L283.10,243.90 L282.69,246.29 L282.69,246.29 L282.52,247.40 L282.35,248.51 L282.20,249.62 L282.06,250.73 L281.92,251.84 L281.79,252.95 L281.67,254.06 L281.56,255.17 L281.45,256.28 L281.35,257.39 L281.25,258.50 L281.16,259.61 L281.08,260.72 L281.00,261.83 L280.92,262.94 L280.85,264.04 L280.79,265.15 L280.72,266.26 L280.66,267.37 L280.61,268.48 L280.56,269.59 L280.51,270.69 L280.46,271.80 L280.42,272.91 L280.37,274.02 L280.34,275.12 L280.30,276.23 L280.26,277.34 L280.23,278.45 L280.20,279.56 L280.17,280.66 L280.14,281.77 L280.12,282.88 L280.09,283.99 L280.07,285.09 L280.05,286.20 L280.03,287.31 L280.01,288.42 L279.99,289.52 L279.98,290.63 L279.96,291.74 L279.95,292.85 L279.93,293.95 L279.92,295.06 L279.91,296.17 L279.89,297.27 L279.88,298.38 L279.87,299.49 L279.86,300.60 L279.85,301.70 L279.84,302.81 L279.84,303.92 L279.83,305.03 L279.82,306.13 L279.81,307.24 L279.81,308.35 L279.80,309.45 L279.79,310.56 L279.79,311.67 L279.78,312.78 L279.78,313.88 L279.77,314.99 L279.77,316.10 L279.77,317.20 L279.76,318.31 L279.76,319.42 L279.76,320.52 L279.75,321.63 L279.75,322.74 L279.75,323.85 L279.74,324.95 L279.74,326.06 L279.74,327.17 L279.74,328.27 L279.73,329.38 L279.73,330.49 L279.73,331.60 L279.73,332.70 L279.73,333.81 L279.73,334.92 L279.72,336.02 L279.72,337.13 L279.72,338.24 L279.72,339.34 L279.72,340.45 L279.72,341.56 L279.72,342.67 L279.72,343.77 L279.71,344.88 L279.71,345.99 L279.71,347.09 L279.71,348.20 L279.71,348.30" fill="none" stroke="rgb(12,86,6)" stroke-width="2.1" stroke-linejoin="round"/>
<path d="M340.20,197.00 L339.23,197.13 L338.95,197.26 L338.68,197.39 L338.40,197.52 L338.13,197.65 L337.85,197.78 L337.58,197.91 L337.30,198.05 L337.03,198.18 L336.75,198.32 L336.48,198.46 L336.20,198.60 L335.93,198.74 L335.65,198.88 L335.38,199.02 L335.10,199.16 L334.83,199.30 L334.55,199.45 L334.28,199.60 L334.01,199.74 L333.73,199.89 L333.46,200.04 L333.18,200.19 L332.91,200.34 L332.63,200.50 L332.36,200.65 L332.08,200.81 L331.81,200.97 L331.53,201.12 L331.26,201.28 L330.98,201.45 L330.71,201.61 L330.43,201.77 L330.16,201.94 L329.88,202.11 L329.61,202.28 L329.33,202.45 L329.06,202.62 L328.78,202.79 L328.51,202.97 L328.24,203.14 L327.96,203.32 L327.69,203.50 L327.41,203.68 L327.14,203.87 L326.86,204.05 L326.59,204.24 L326.31,204.43 L326.04,204.62 L325.76,204.82 L325.49,205.01 L325.21,205.21 L324.94,205.41 L324.66,205.61 L324.39,205.82 L324.11,206.02 L323.84,206.23 L323.56,206.44 L323.29,206.65 L323.02,206.87 L322.74,207.09 L322.47,207.31 L322.19,207.53 L321.92,207.76 L321.64,207.99 L321.37,208.22 L321.09,208.45 L320.82,208.69 L320.54,208.93 L320.27,209.18 L319.99,209.42 L319.72,209.67 L319.44,209.93 L319.17,210.19 L318.89,210.45 L318.62,210.71 L318.34,210.98 L318.07,211.25 L317.79,211.53 L317.52,211.81 L317.25,212.09 L316.97,212.38 L316.70,212.67 L316.42,212.97 L316.15,213.28 L315.87,213.58 L315.60,213.90 L315.32,214.22 L315.05,214.54 L314.77,214.87 L314.50,215.20 L314.22,215.55 L313.95,215.89 L313.67,216.25 L313.40,216.61 L313.12,216.98 L312.85,217.35 L312.57,217.74 L312.30,218.13 L312.03,218.53 L311.75,218.94 L311.48,219.35 L311.20,219.78 L310.93,220.22 L310.65,220.66 L310.38,221.12 L310.10,221.59 L309.83,222.07 L309.55,222.57 L309.28,223.07 L309.00,223.60 L308.73,224.13 L308.45,224.69 L308.18,225.26 L307.90,225.84 L307.63,226.45 L307.35,227.08 L307.08,227.72 L306.80,228.39 L306.53,229.09 L306.26,229.81 L305.98,230.57 L305.71,231.35 L305.43,232.17 L305.16,233.02 L304.88,233.92 L304.61,234.86 L304.33,235.85 L304.06,236.90 L303.78,238.01 L303.51,239.19 L303.23,240.45 L302.96,241.79 L302.68,243.25 L302.41,244.83 L302.13,246.55 L301.86,248.45 L301.58,250.56 L301.31,252.95 L301.31,252.95 L301.19,254.06 L301.08,255.16 L300.98,256.27 L300.88,257.38 L300.79,258.49 L300.71,259.60 L300.62,260.70 L300.55,261.81 L300.48,262.92 L300.41,264.03 L300.34,265.14 L300.28,266.24 L300.23,267.35 L300.17,268.46 L300.12,269.57 L300.08,270.67 L300.03,271.78 L299.99,272.89 L299.95,274.00 L299.91,275.11 L299.88,276.21 L299.84,277.32 L299.81,278.43 L299.78,279.53 L299.75,280.64 L299.73,281.75 L299.70,282.86 L299.68,283.96 L299.66,285.07 L299.64,286.18 L299.62,287.29 L299.60,288.39 L299.58,289.50 L299.57,290.61 L299.55,291.71 L299.54,292.82 L299.52,293.93 L299.51,295.04 L299.50,296.14 L299.49,297.25 L299.47,298.36 L299.46,299.47 L299.46,300.57 L299.45,301.68 L299.44,302.79 L299.43,303.89 L299.42,305.00 L299.42,306.11 L299.41,307.21 L299.40,308.32 L299.40,309.43 L299.39,310.54 L299.39,311.64 L299.38,312.75 L299.38,313.86 L299.37,314.96 L299.37,316.07 L299.36,317.18 L299.36,318.29 L299.36,319.39 L299.35,320.50 L299.35,321.61 L299.35,322.71 L299.34,323.82 L299.34,324.93 L299.34,326.03 L299.34,327.14 L299.34,328.25 L299.33,329.36 L299.33,330.46 L299.33,331.57 L299.33,332.68 L299.33,333.78 L299.32,334.89 L299.32,336.00 L299.32,337.11 L299.32,338.21 L299.32,339.32 L299.32,340.43 L299.32,341.53 L299.32,342.64 L299.32,343.75 L299.31,344.85 L299.31,345.96 L299.31,347.07 L299.31,348.18 L299.31,349.00" fill="none" stroke="rgb(6,98,6)" stroke-width="2.1" stroke-linejoin="round"/>
<path d="M340.20,205.70 L339.35,205.83 L339.20,205.96 L339.06,206.08 L338.91,206.21 L338.76,206.35 L338.61,206.48 L338.46,206.61 L338.31,206.74 L338.17,206.88 L338.02,207.01 L337.87,207.15 L337.72,207.29 L337.57,207.43 L337.42,207.57 L337.28,207.71 L337.13,207.85 L336.98,207.99 L336.83,208.14 L336.68,208.28 L336.53,208.43 L336.39,208.58 L336.24,208.72 L336.09,208.87 L335.94,209.03 L335.79,209.18 L335.64,209.33 L335.50,209.49 L335.35,209.64 L335.20,209.80 L335.05,209.96 L334.90,210.12 L334.75,210.28 L334.61,210.45 L334.46,210.61 L334.31,210.78 L334.16,210.94 L334.01,211.11 L333.86,211.29 L333.72,211.46 L333.57,211.63 L333.42,211.81 L333.27,211.98 L333.12,212.16 L332.97,212.34 L332.83,212.53 L332.68,212.71 L332.53,212.90 L332.38,213.09 L332.23,213.28 L332.08,213.47 L331.94,213.66 L331.79,213.86 L331.64,214.06 L331.49,214.26 L331.34,214.46 L331.19,214.66 L331.05,214.87 L330.90,215.08 L330.75,215.29 L330.60,215.51 L330.45,215.72 L330.30,215.94 L330.16,216.17 L330.01,216.39 L329.86,216.62 L329.71,216.85 L329.56,217.08 L329.41,217.32 L329.27,217.56 L329.12,217.80 L328.97,218.04 L328.82,218.29 L328.67,218.54 L328.53,218.80 L328.38,219.06 L328.23,219.32 L328.08,219.59 L327.93,219.86 L327.78,220.13 L327.64,220.41 L327.49,220.69 L327.34,220.98 L327.19,221.27 L327.04,221.57 L326.89,221.87 L326.75,222.18 L326.60,222.49 L326.45,222.80 L326.30,223.13 L326.15,223.45 L326.00,223.79 L325.86,224.13 L325.71,224.47 L325.56,224.82 L325.41,225.18 L325.26,225.55 L325.11,225.92 L324.97,226.30 L324.82,226.69 L324.67,227.09 L324.52,227.50 L324.37,227.91 L324.22,228.34 L324.08,228.77 L323.93,229.22 L323.78,229.67 L323.63,230.14 L323.48,230.62 L323.33,231.11 L323.19,231.62 L323.04,232.14 L322.89,232.67 L322.74,233.22 L322.59,233.79 L322.44,234.37 L322.30,234.98 L322.15,235.60 L322.00,236.25 L321.85,236.91 L321.70,237.61 L321.55,238.33 L321.41,239.08 L321.26,239.86 L321.11,240.68 L320.96,241.53 L320.81,242.42 L320.66,243.36 L320.52,244.35 L320.37,245.39 L320.22,246.50 L320.07,247.68 L319.92,248.93 L319.77,250.28 L319.63,251.73 L319.48,253.30 L319.33,255.03 L319.18,256.92 L319.03,259.03 L318.88,261.41 L318.88,261.41 L318.82,262.52 L318.76,263.63 L318.71,264.74 L318.66,265.84 L318.61,266.95 L318.56,268.06 L318.52,269.17 L318.47,270.27 L318.43,271.38 L318.40,272.49 L318.36,273.59 L318.33,274.70 L318.30,275.81 L318.27,276.92 L318.24,278.02 L318.22,279.13 L318.19,280.24 L318.17,281.34 L318.15,282.45 L318.13,283.56 L318.11,284.67 L318.09,285.77 L318.08,286.88 L318.06,287.99 L318.04,289.09 L318.03,290.20 L318.02,291.31 L318.00,292.42 L317.99,293.52 L317.98,294.63 L317.97,295.74 L317.96,296.84 L317.95,297.95 L317.94,299.06 L317.93,300.16 L317.93,301.27 L317.92,302.38 L317.91,303.49 L317.91,304.59 L317.90,305.70 L317.89,306.81 L317.89,307.91 L317.88,309.02 L317.88,310.13 L317.87,311.24 L317.87,312.34 L317.87,313.45 L317.86,314.56 L317.86,315.66 L317.86,316.77 L317.85,317.88 L317.85,318.98 L317.85,320.09 L317.84,321.20 L317.84,322.31 L317.84,323.41 L317.84,324.52 L317.83,325.63 L317.83,326.73 L317.83,327.84 L317.83,328.95 L317.83,330.05 L317.83,331.16 L317.82,332.27 L317.82,333.38 L317.82,334.48 L317.82,335.59 L317.82,336.70 L317.82,337.80 L317.82,338.91 L317.82,340.02 L317.81,341.12 L317.81,342.23 L317.81,343.34 L317.81,344.45 L317.81,345.55 L317.81,346.66 L317.81,347.77 L317.81,348.87 L317.81,349.98 L317.81,351.09 L317.81,352.19 L317.81,353.20" fill="none" stroke="rgb(8,110,8)" stroke-width="2.1" stroke-linejoin="round"/>
<path d="M339.70,239.50 L339.48,239.63 L339.46,239.76 L339.44,239.88 L339.41,240.01 L339.39,240.15 L339.37,240.28 L339.35,240.41 L339.33,240.54 L339.31,240.68 L339.28,240.81 L339.26,240.95 L339.24,241.09 L339.22,241.23 L339.20,241.37 L339.18,241.51 L339.16,241.65 L339.13,241.79 L339.11,241.94 L339.09,242.08 L339.07,242.23 L339.05,242.38 L339.03,242.53 L339.00,242.68 L338.98,242.83 L338.96,242.98 L338.94,243.13 L338.92,243.29 L338.90,243.45 L338.88,243.60 L338.85,243.76 L338.83,243.92 L338.81,244.08 L338.79,244.25 L338.77,244.41 L338.75,244.58 L338.72,244.75 L338.70,244.92 L338.68,245.09 L338.66,245.26 L338.64,245.43 L338.62,245.61 L338.60,245.78 L338.57,245.96 L338.55,246.14 L338.53,246.33 L338.51,246.51 L338.49,246.70 L338.47,246.89 L338.45,247.08 L338.42,247.27 L338.40,247.46 L338.38,247.66 L338.36,247.86 L338.34,248.06 L338.32,248.26 L338.29,248.46 L338.27,248.67 L338.25,248.88 L338.23,249.09 L338.21,249.30 L338.19,249.52 L338.17,249.74 L338.14,249.96 L338.12,250.19 L338.10,250.41 L338.08,250.64 L338.06,250.88 L338.04,251.11 L338.01,251.35 L337.99,251.59 L337.97,251.84 L337.95,252.09 L337.93,252.34 L337.91,252.59 L337.89,252.85 L337.86,253.11 L337.84,253.38 L337.82,253.65 L337.80,253.92 L337.78,254.20 L337.76,254.48 L337.73,254.77 L337.71,255.06 L337.69,255.36 L337.67,255.66 L337.65,255.96 L337.63,256.27 L337.61,256.59 L337.58,256.91 L337.56,257.24 L337.54,257.57 L337.52,257.91 L337.50,258.26 L337.48,258.61 L337.45,258.97 L337.43,259.33 L337.41,259.71 L337.39,260.09 L337.37,260.47 L337.35,260.87 L337.33,261.28 L337.30,261.69 L337.28,262.12 L337.26,262.55 L337.24,262.99 L337.22,263.45 L337.20,263.92 L337.17,264.40 L337.15,264.89 L337.13,265.39 L337.11,265.91 L337.09,266.45 L337.07,266.99 L337.05,267.56 L337.02,268.15 L337.00,268.75 L336.98,269.37 L336.96,270.02 L336.94,270.69 L336.92,271.38 L336.90,272.10 L336.87,272.85 L336.85,273.63 L336.83,274.44 L336.81,275.29 L336.79,276.19 L336.77,277.13 L336.74,278.11 L336.72,279.16 L336.70,280.26 L336.68,281.44 L336.66,282.69 L336.64,284.04 L336.62,285.49 L336.59,287.06 L336.57,288.78 L336.55,290.68 L336.53,292.79 L336.51,295.17 L336.51,295.17 L336.50,296.28 L336.49,297.39 L336.48,298.49 L336.47,299.60 L336.47,300.71 L336.46,301.81 L336.45,302.92 L336.45,304.03 L336.44,305.13 L336.44,306.24 L336.43,307.35 L336.43,308.46 L336.42,309.56 L336.42,310.67 L336.41,311.78 L336.41,312.88 L336.41,313.99 L336.40,315.10 L336.40,316.20 L336.40,317.31 L336.40,318.42 L336.39,319.53 L336.39,320.63 L336.39,321.74 L336.39,322.85 L336.38,323.95 L336.38,325.06 L336.38,326.17 L336.38,327.27 L336.38,328.38 L336.37,329.49 L336.37,330.60 L336.37,331.70 L336.37,332.81 L336.37,333.92 L336.37,335.02 L336.37,336.13 L336.37,337.24 L336.37,338.34 L336.36,339.45 L336.36,340.56 L336.36,341.67 L336.36,342.77 L336.36,343.88 L336.36,344.99 L336.36,346.09 L336.36,347.20 L336.36,348.31 L336.36,349.41 L336.36,350.52 L336.36,351.63 L336.36,352.74 L336.36,353.84 L336.36,354.95 L336.36,356.06 L336.36,357.16 L336.36,358.27 L336.35,359.38 L336.35,360.48 L336.35,361.59 L336.35,362.70 L336.35,363.81 L336.35,364.91 L336.35,365.00" fill="none" stroke="rgb(10,120,10)" stroke-width="2.15" stroke-linejoin="round"/>
<path d="M339.70,250.00 L339.49,250.13 L339.48,250.26 L339.47,250.38 L339.46,250.52 L339.45,250.65 L339.44,250.78 L339.44,250.91 L339.43,251.04 L339.42,251.18 L339.41,251.32 L339.40,251.45 L339.39,251.59 L339.38,251.73 L339.37,251.87 L339.36,252.01 L339.35,252.15 L339.34,252.30 L339.33,252.44 L339.32,252.58 L339.32,252.73 L339.31,252.88 L339.30,253.03 L339.29,253.18 L339.28,253.33 L339.27,253.48 L339.26,253.64 L339.25,253.79 L339.24,253.95 L339.23,254.10 L339.22,254.26 L339.21,254.42 L339.20,254.59 L339.20,254.75 L339.19,254.91 L339.18,255.08 L339.17,255.25 L339.16,255.42 L339.15,255.59 L339.14,255.76 L339.13,255.93 L339.12,256.11 L339.11,256.29 L339.10,256.47 L339.09,256.65 L339.08,256.83 L339.08,257.01 L339.07,257.20 L339.06,257.39 L339.05,257.58 L339.04,257.77 L339.03,257.96 L339.02,258.16 L339.01,258.36 L339.00,258.56 L338.99,258.76 L338.98,258.97 L338.97,259.17 L338.96,259.38 L338.96,259.59 L338.95,259.81 L338.94,260.02 L338.93,260.24 L338.92,260.46 L338.91,260.69 L338.90,260.92 L338.89,261.15 L338.88,261.38 L338.87,261.61 L338.86,261.85 L338.85,262.10 L338.84,262.34 L338.84,262.59 L338.83,262.84 L338.82,263.10 L338.81,263.35 L338.80,263.62 L338.79,263.88 L338.78,264.15 L338.77,264.43 L338.76,264.71 L338.75,264.99 L338.74,265.27 L338.73,265.57 L338.72,265.86 L338.72,266.16 L338.71,266.47 L338.70,266.78 L338.69,267.09 L338.68,267.42 L338.67,267.74 L338.66,268.08 L338.65,268.42 L338.64,268.76 L338.63,269.11 L338.62,269.47 L338.61,269.84 L338.61,270.21 L338.60,270.59 L338.59,270.98 L338.58,271.38 L338.57,271.78 L338.56,272.20 L338.55,272.62 L338.54,273.06 L338.53,273.50 L338.52,273.96 L338.51,274.42 L338.50,274.90 L338.49,275.39 L338.49,275.90 L338.48,276.42 L338.47,276.95 L338.46,277.50 L338.45,278.07 L338.44,278.65 L338.43,279.25 L338.42,279.88 L338.41,280.52 L338.40,281.19 L338.39,281.88 L338.38,282.60 L338.37,283.35 L338.37,284.13 L338.36,284.95 L338.35,285.80 L338.34,286.69 L338.33,287.63 L338.32,288.62 L338.31,289.66 L338.30,290.77 L338.29,291.94 L338.28,293.20 L338.27,294.55 L338.26,296.00 L338.25,297.57 L338.25,299.29 L338.24,301.19 L338.23,303.30 L338.22,305.68 L338.22,305.68 L338.21,306.78 L338.21,307.89 L338.21,309.00 L338.20,310.11 L338.20,311.21 L338.20,312.32 L338.19,313.43 L338.19,314.53 L338.19,315.64 L338.19,316.75 L338.19,317.85 L338.18,318.96 L338.18,320.07 L338.18,321.18 L338.18,322.28 L338.18,323.39 L338.17,324.50 L338.17,325.60 L338.17,326.71 L338.17,327.82 L338.17,328.93 L338.17,330.03 L338.17,331.14 L338.17,332.25 L338.17,333.35 L338.16,334.46 L338.16,335.57 L338.16,336.67 L338.16,337.78 L338.16,338.89 L338.16,340.00 L338.16,341.10 L338.16,342.21 L338.16,343.32 L338.16,344.42 L338.16,345.53 L338.16,346.64 L338.16,347.74 L338.16,348.85 L338.16,349.96 L338.16,351.07 L338.16,352.17 L338.16,353.28 L338.15,354.39 L338.15,355.49 L338.15,356.60 L338.15,357.71 L338.15,358.81 L338.15,359.92 L338.15,361.03 L338.15,362.00" fill="none" stroke="rgb(10,120,10)" stroke-width="2.15" stroke-linejoin="round"/>
<line x1="339.5" y1="206" x2="339.5" y2="214.5" stroke="rgb(10,118,10)" stroke-width="1.3"/>
<circle cx="339.5" cy="217.8" r="0.85" fill="rgb(10,120,10)"/>
<circle cx="339.5" cy="220.7" r="0.85" fill="rgb(10,120,10)"/>
<circle cx="339.5" cy="223.7" r="0.85" fill="rgb(10,120,10)"/>
<circle cx="339.5" cy="227.6" r="0.85" fill="rgb(10,120,10)"/>
<circle cx="339.5" cy="231.6" r="0.85" fill="rgb(10,120,10)"/>
<line x1="339.5" y1="251" x2="339.5" y2="257" stroke="rgb(10,120,10)" stroke-width="0.8"/>
<circle cx="339.4" cy="304" r="0.7" fill="rgb(10,120,10)"/>
<text x="163.6" y="147.5" font-family="Liberation Serif, serif" font-size="24.2" fill="#111" text-anchor="middle">Increasing</text>
<text x="154.5" y="174.3" font-family="Liberation Serif, serif" font-style="italic" font-size="24" fill="#111">s</text>
<text x="164.8" y="178.6" font-family="Liberation Serif, serif" font-size="16" fill="#111">0</text>
<line x1="194.7" y1="173.7" x2="280.0" y2="245.1" stroke="#000" stroke-width="2.9"/>
<polygon points="286.9,250.9 280.8,235.5 279.4,244.6 270.6,247.6" fill="#000"/>
<rect x="424.1" y="143.5" width="167.69999999999993" height="258.8" fill="none" stroke="#1c1c1c" stroke-width="1.8"/>
<line x1="424.1" y1="175.5" x2="427.5" y2="175.5" stroke="#1c1c1c" stroke-width="1.2"/>
<line x1="591.8" y1="175.5" x2="588.4" y2="175.5" stroke="#1c1c1c" stroke-width="1.2"/>
<line x1="424.1" y1="149.5" x2="426.0" y2="149.5" stroke="#1c1c1c" stroke-width="1.2"/>
<line x1="591.8" y1="149.5" x2="589.9" y2="149.5" stroke="#1c1c1c" stroke-width="1.2"/>
<line x1="424.1" y1="261.9" x2="427.5" y2="261.9" stroke="#1c1c1c" stroke-width="1.2"/>
<line x1="591.8" y1="261.9" x2="588.4" y2="261.9" stroke="#1c1c1c" stroke-width="1.2"/>
<line x1="424.1" y1="235.9" x2="426.0" y2="235.9" stroke="#1c1c1c" stroke-width="1.2"/>
<line x1="591.8" y1="235.9" x2="589.9" y2="235.9" stroke="#1c1c1c" stroke-width="1.2"/>
<line x1="424.1" y1="220.7" x2="426.0" y2="220.7" stroke="#1c1c1c" stroke-width="1.2"/>
<line x1="591.8" y1="220.7" x2="589.9" y2="220.7" stroke="#1c1c1c" stroke-width="1.2"/>
<line x1="424.1" y1="209.9" x2="426.0" y2="209.9" stroke="#1c1c1c" stroke-width="1.2"/>
<line x1="591.8" y1="209.9" x2="589.9" y2="209.9" stroke="#1c1c1c" stroke-width="1.2"/>
<line x1="424.1" y1="201.5" x2="426.0" y2="201.5" stroke="#1c1c1c" stroke-width="1.2"/>
<line x1="591.8" y1="201.5" x2="589.9" y2="201.5" stroke="#1c1c1c" stroke-width="1.2"/>
<line x1="424.1" y1="194.7" x2="426.0" y2="194.7" stroke="#1c1c1c" stroke-width="1.2"/>
<line x1="591.8" y1="194.7" x2="589.9" y2="194.7" stroke="#1c1c1c" stroke-width="1.2"/>
<line x1="424.1" y1="188.9" x2="426.0" y2="188.9" stroke="#1c1c1c" stroke-width="1.2"/>
<line x1="591.8" y1="188.9" x2="589.9" y2="188.9" stroke="#1c1c1c" stroke-width="1.2"/>
<line x1="424.1" y1="183.9" x2="426.0" y2="183.9" stroke="#1c1c1c" stroke-width="1.2"/>
<line x1="591.8" y1="183.9" x2="589.9" y2="183.9" stroke="#1c1c1c" stroke-width="1.2"/>
<line x1="424.1" y1="179.5" x2="426.0" y2="179.5" stroke="#1c1c1c" stroke-width="1.2"/>
<line x1="591.8" y1="179.5" x2="589.9" y2="179.5" stroke="#1c1c1c" stroke-width="1.2"/>
<line x1="424.1" y1="348.2" x2="427.5" y2="348.2" stroke="#1c1c1c" stroke-width="1.2"/>
<line x1="591.8" y1="348.2" x2="588.4" y2="348.2" stroke="#1c1c1c" stroke-width="1.2"/>
<line x1="424.1" y1="322.2" x2="426.0" y2="322.2" stroke="#1c1c1c" stroke-width="1.2"/>
<line x1="591.8" y1="322.2" x2="589.9" y2="322.2" stroke="#1c1c1c" stroke-width="1.2"/>
<line x1="424.1" y1="307.0" x2="426.0" y2="307.0" stroke="#1c1c1c" stroke-width="1.2"/>
<line x1="591.8" y1="307.0" x2="589.9" y2="307.0" stroke="#1c1c1c" stroke-width="1.2"/>
<line x1="424.1" y1="296.2" x2="426.0" y2="296.2" stroke="#1c1c1c" stroke-width="1.2"/>
<line x1="591.8" y1="296.2" x2="589.9" y2="296.2" stroke="#1c1c1c" stroke-width="1.2"/>
<line x1="424.1" y1="287.8" x2="426.0" y2="287.8" stroke="#1c1c1c" stroke-width="1.2"/>
<line x1="591.8" y1="287.8" x2="589.9" y2="287.8" stroke="#1c1c1c" stroke-width="1.2"/>
<line x1="424.1" y1="281.0" x2="426.0" y2="281.0" stroke="#1c1c1c" stroke-width="1.2"/>
<line x1="591.8" y1="281.0" x2="589.9" y2="281.0" stroke="#1c1c1c" stroke-width="1.2"/>
<line x1="424.1" y1="275.2" x2="426.0" y2="275.2" stroke="#1c1c1c" stroke-width="1.2"/>
<line x1="591.8" y1="275.2" x2="589.9" y2="275.2" stroke="#1c1c1c" stroke-width="1.2"/>
<line x1="424.1" y1="270.2" x2="426.0" y2="270.2" stroke="#1c1c1c" stroke-width="1.2"/>
<line x1="591.8" y1="270.2" x2="589.9" y2="270.2" stroke="#1c1c1c" stroke-width="1.2"/>
<line x1="424.1" y1="265.8" x2="426.0" y2="265.8" stroke="#1c1c1c" stroke-width="1.2"/>
<line x1="591.8" y1="265.8" x2="589.9" y2="265.8" stroke="#1c1c1c" stroke-width="1.2"/>
<line x1="424.1" y1="393.4" x2="426.0" y2="393.4" stroke="#1c1c1c" stroke-width="1.2"/>
<line x1="591.8" y1="393.4" x2="589.9" y2="393.4" stroke="#1c1c1c" stroke-width="1.2"/>
<line x1="424.1" y1="382.6" x2="426.0" y2="382.6" stroke="#1c1c1c" stroke-width="1.2"/>
<line x1="591.8" y1="382.6" x2="589.9" y2="382.6" stroke="#1c1c1c" stroke-width="1.2"/>
<line x1="424.1" y1="374.2" x2="426.0" y2="374.2" stroke="#1c1c1c" stroke-width="1.2"/>
<line x1="591.8" y1="374.2" x2="589.9" y2="374.2" stroke="#1c1c1c" stroke-width="1.2"/>
<line x1="424.1" y1="367.4" x2="426.0" y2="367.4" stroke="#1c1c1c" stroke-width="1.2"/>
<line x1="591.8" y1="367.4" x2="589.9" y2="367.4" stroke="#1c1c1c" stroke-width="1.2"/>
<line x1="424.1" y1="361.6" x2="426.0" y2="361.6" stroke="#1c1c1c" stroke-width="1.2"/>
<line x1="591.8" y1="361.6" x2="589.9" y2="361.6" stroke="#1c1c1c" stroke-width="1.2"/>
<line x1="424.1" y1="356.6" x2="426.0" y2="356.6" stroke="#1c1c1c" stroke-width="1.2"/>
<line x1="591.8" y1="356.6" x2="589.9" y2="356.6" stroke="#1c1c1c" stroke-width="1.2"/>
<line x1="424.1" y1="352.2" x2="426.0" y2="352.2" stroke="#1c1c1c" stroke-width="1.2"/>
<line x1="591.8" y1="352.2" x2="589.9" y2="352.2" stroke="#1c1c1c" stroke-width="1.2"/>
<line x1="501.6" y1="402.3" x2="501.6" y2="398.90000000000003" stroke="#1c1c1c" stroke-width="1.2"/>
<line x1="501.6" y1="143.5" x2="501.6" y2="146.9" stroke="#1c1c1c" stroke-width="1.2"/>
<line x1="545.3" y1="402.3" x2="545.3" y2="398.90000000000003" stroke="#1c1c1c" stroke-width="1.2"/>
<line x1="545.3" y1="143.5" x2="545.3" y2="146.9" stroke="#1c1c1c" stroke-width="1.2"/>
<line x1="579.1" y1="402.3" x2="579.1" y2="398.90000000000003" stroke="#1c1c1c" stroke-width="1.2"/>
<line x1="579.1" y1="143.5" x2="579.1" y2="146.9" stroke="#1c1c1c" stroke-width="1.2"/>
<text x="405.6" y="187.2" font-family="Liberation Sans, sans-serif" font-size="22" fill="#1c1c1c" text-anchor="end">10</text>
<text x="407.6" y="176.6" font-family="Liberation Sans, sans-serif" font-size="16.5" fill="#1c1c1c">0</text>
<text x="399" y="273.8" font-family="Liberation Sans, sans-serif" font-size="22" fill="#1c1c1c" text-anchor="end">10</text>
<text transform="translate(400.5,263.2) scale(1.18,1)" font-family="Liberation Sans, sans-serif" font-size="16.5" fill="#1c1c1c">-</text>
<text x="406.3" y="263.2" font-family="Liberation Sans, sans-serif" font-size="16.5" fill="#1c1c1c">1</text>
<text x="398.2" y="360.3" font-family="Liberation Sans, sans-serif" font-size="22" fill="#1c1c1c" text-anchor="end">10</text>
<text transform="translate(399.7,349.7) scale(1.18,1)" font-family="Liberation Sans, sans-serif" font-size="16.5" fill="#1c1c1c">-</text>
<text x="406.59999999999997" y="349.7" font-family="Liberation Sans, sans-serif" font-size="16.5" fill="#1c1c1c">2</text>
<text x="423.2" y="431.2" font-family="Liberation Sans, sans-serif" font-size="22" fill="#1c1c1c" text-anchor="middle">3.72</text>
<text x="500.6" y="431.2" font-family="Liberation Sans, sans-serif" font-size="22" fill="#1c1c1c" text-anchor="middle">3.78</text>
<text x="556" y="431.2" font-family="Liberation Sans, sans-serif" font-size="22" fill="#1c1c1c">3.84</text>
<text transform="translate(535.6,429.6) scale(1.22,1)" font-family="Liberation Serif, serif" font-style="italic" font-size="19.4" fill="#111">s</text>
<text x="546" y="435.1" font-family="Liberation Serif, serif" font-size="15.6" fill="#111">0</text>
<line x1="549.80" y1="415.40" x2="549.80" y2="421.60" stroke="#111" stroke-width="0.95" stroke-linecap="round"/>
<line x1="552.48" y1="416.95" x2="547.12" y2="420.05" stroke="#111" stroke-width="0.95" stroke-linecap="round"/>
<line x1="552.48" y1="420.05" x2="547.12" y2="416.95" stroke="#111" stroke-width="0.95" stroke-linecap="round"/>
<text transform="translate(519.6,447.7) scale(1.1,1)" font-family="Liberation Serif, serif" font-style="italic" font-size="25" fill="#111">s</text>
<text x="530" y="450.9" font-family="Liberation Serif, serif" font-size="17.6" fill="#111">0</text>
<text transform="translate(368,277.8) rotate(-90) scale(1.2,1)" font-family="Liberation Serif, serif" font-style="italic" font-size="25.5" fill="#111">l</text>
<line x1="357.70" y1="265.20" x2="351.10" y2="265.20" stroke="#111" stroke-width="0.95" stroke-linecap="round"/>
<line x1="356.05" y1="268.06" x2="352.75" y2="262.34" stroke="#111" stroke-width="0.95" stroke-linecap="round"/>
<line x1="352.75" y1="268.06" x2="356.05" y2="262.34" stroke="#111" stroke-width="0.95" stroke-linecap="round"/>
<line x1="545.3" y1="144.4" x2="545.3" y2="402.3" stroke="#111" stroke-width="2.1" stroke-dasharray="9.6 8.76"/>
<path d="M429.3,199.3 L438.7,206.0 L450.3,213.2 L462.0,219.8 L473.7,226.6 L485.3,234.3 L494.7,241.8 L504.0,251.4 L513.3,263.3 L517.6,270.0 L523.1,278.8 L527.5,288.7 L531.9,300.8 L533.6,308.5 L535.6,322.7 L537.8,338.1 L540.0,355.3" fill="none" stroke="#0000ff" stroke-width="3.4" stroke-dasharray="12.1 4.75 3.2 4.75" stroke-linejoin="round"/>
</g>
</svg>
</body></html>
